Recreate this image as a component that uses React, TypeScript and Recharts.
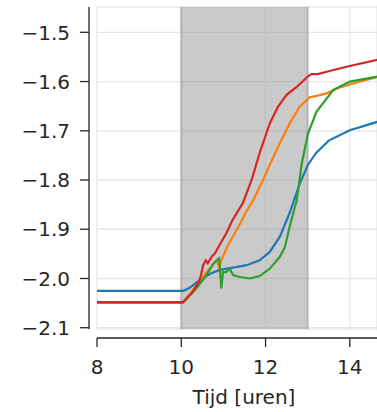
import { LineChart, Line, XAxis, YAxis, CartesianGrid, ReferenceArea, ReferenceLine } from 'recharts';

// tijd in uren, waarde per meetreeks
const blauw = [
  { t: 8, v: -2.025 }, { t: 10.05, v: -2.025 }, { t: 10.2, v: -2.019 }, { t: 10.44, v: -2.003 },
  { t: 10.7, v: -1.99 }, { t: 10.9, v: -1.983 }, { t: 11.07, v: -1.98 }, { t: 11.3, v: -1.977 },
  { t: 11.55, v: -1.973 }, { t: 11.86, v: -1.963 }, { t: 12.1, v: -1.946 }, { t: 12.34, v: -1.915 },
  { t: 12.58, v: -1.865 }, { t: 12.8, v: -1.81 }, { t: 13.0, v: -1.77 }, { t: 13.2, v: -1.745 },
  { t: 13.5, v: -1.72 }, { t: 14.0, v: -1.699 }, { t: 14.65, v: -1.682 },
];

const oranje = [
  { t: 8, v: -2.048 }, { t: 10.04, v: -2.048 }, { t: 10.36, v: -2.014 }, { t: 10.6, v: -1.987 },
  { t: 10.84, v: -1.963 }, { t: 10.9, v: -1.979 }, { t: 10.95, v: -1.963 }, { t: 11.11, v: -1.932 },
  { t: 11.31, v: -1.902 }, { t: 11.55, v: -1.863 }, { t: 11.71, v: -1.841 }, { t: 11.94, v: -1.8 },
  { t: 12.26, v: -1.739 }, { t: 12.58, v: -1.684 }, { t: 12.81, v: -1.651 }, { t: 13.05, v: -1.632 },
  { t: 13.21, v: -1.629 }, { t: 13.45, v: -1.624 }, { t: 13.69, v: -1.614 }, { t: 14.16, v: -1.602 },
  { t: 14.65, v: -1.591 },
];

const groen = [
  { t: 8, v: -2.049 }, { t: 10.04, v: -2.049 }, { t: 10.36, v: -2.02 }, { t: 10.6, v: -1.993 },
  { t: 10.76, v: -1.97 }, { t: 10.9, v: -1.959 }, { t: 10.95, v: -2.02 }, { t: 10.99, v: -1.987 },
  { t: 11.07, v: -1.987 }, { t: 11.15, v: -1.98 }, { t: 11.23, v: -1.993 }, { t: 11.39, v: -1.997 },
  { t: 11.63, v: -2.0 }, { t: 11.86, v: -1.995 }, { t: 12.1, v: -1.98 }, { t: 12.34, v: -1.956 },
  { t: 12.46, v: -1.936 }, { t: 12.58, v: -1.892 }, { t: 12.74, v: -1.841 }, { t: 12.86, v: -1.766 },
  { t: 13.01, v: -1.705 }, { t: 13.21, v: -1.661 }, { t: 13.61, v: -1.617 }, { t: 14.0, v: -1.6 },
  { t: 14.65, v: -1.59 },
];

const rood = [
  { t: 8, v: -2.048 }, { t: 10.04, v: -2.048 }, { t: 10.25, v: -2.03 }, { t: 10.44, v: -2.003 },
  { t: 10.52, v: -1.973 }, { t: 10.58, v: -1.963 }, { t: 10.63, v: -1.969 }, { t: 10.72, v: -1.956 },
  { t: 10.8, v: -1.949 }, { t: 10.91, v: -1.932 }, { t: 11.07, v: -1.908 }, { t: 11.22, v: -1.881 },
  { t: 11.46, v: -1.847 }, { t: 11.67, v: -1.8 }, { t: 11.86, v: -1.745 }, { t: 12.1, v: -1.685 },
  { t: 12.29, v: -1.652 }, { t: 12.5, v: -1.627 }, { t: 12.74, v: -1.611 }, { t: 13.0, v: -1.59 },
  { t: 13.09, v: -1.585 }, { t: 13.24, v: -1.585 }, { t: 13.45, v: -1.58 }, { t: 13.92, v: -1.57 },
  { t: 14.65, v: -1.556 },
];

const xTicks = [8, 10, 12, 14];
const yTicks = [-2.1, -2.0, -1.9, -1.8, -1.7, -1.6, -1.5];
const periode = [10, 13];

const lettertype = '"DejaVu Sans", Verdana, sans-serif';
const tekstKleur = '#262626';
const asKleur = '#262626';

const fmtY = (v: number) => (v < 0 ? '\u2212' : '') + Math.abs(v).toFixed(1);

const YTick = ({ x, y, payload }: any) => (
  <g>
    <line x1={x - 17} x2={x - 8} y1={y} y2={y} stroke={asKleur} strokeWidth={1.3} />
    <text x={x - 27} y={y} dy="0.36em" textAnchor="end" fontSize={20} fontFamily={lettertype} fill={tekstKleur}>
      {fmtY(payload.value)}
    </text>
  </g>
);

const XTick = ({ x, y, payload }: any) => (
  <g>
    <line x1={x} x2={x} y1={y + 9} y2={y + 18} stroke={asKleur} strokeWidth={1.3} />
    <text x={x} y={y + 45} textAnchor="middle" fontSize={20} fontFamily={lettertype} fill={tekstKleur}>
      {payload.value}
    </text>
  </g>
);

export default function App() {
  return (
    <div style={{ position: 'absolute', left: 0, top: 0 }}>
      <LineChart width={377} height={412} margin={{ top: 7, right: 0, bottom: 0, left: 0 }}>
        <CartesianGrid stroke="#e6e6e6" strokeWidth={1.3} />
        <ReferenceArea x1={periode[0]} x2={periode[1]} fill="#999999" fillOpacity={0.52} stroke="none" />
        <ReferenceLine x={periode[0]} stroke="#999999" strokeOpacity={0.6} strokeWidth={2} />
        <ReferenceLine x={periode[1]} stroke="#999999" strokeOpacity={0.6} strokeWidth={2} />
        <XAxis
          type="number"
          dataKey="t"
          domain={[8, 14.645]}
          ticks={xTicks}
          allowDataOverflow
          height={83}
          tickSize={0}
          tickMargin={0}
          tickLine={false}
          tick={<XTick />}
          axisLine={{ stroke: asKleur, strokeWidth: 1.3, transform: 'translate(0,9)' }}
          label={{
            value: 'Tijd [uren]',
            position: 'insideBottom',
            offset: 8,
            dx: 7,
            style: { fontSize: 20, fontFamily: lettertype, fill: tekstKleur },
          }}
        />
        <YAxis
          type="number"
          dataKey="v"
          domain={[-2.1026, -1.4486]}
          ticks={yTicks}
          allowDataOverflow
          width={97}
          tickSize={0}
          tickMargin={0}
          tickLine={false}
          tick={<YTick />}
          axisLine={{ stroke: asKleur, strokeWidth: 1.3, transform: 'translate(-8,0)' }}
        />
        <Line data={blauw} dataKey="v" stroke="#1f77b4" strokeWidth={2.2} dot={false} isAnimationActive={false} />
        <Line data={oranje} dataKey="v" stroke="#ff7f0e" strokeWidth={2.2} dot={false} isAnimationActive={false} />
        <Line data={groen} dataKey="v" stroke="#2ca02c" strokeWidth={2.2} dot={false} isAnimationActive={false} />
        <Line data={rood} dataKey="v" stroke="#d62728" strokeWidth={2.2} dot={false} isAnimationActive={false} />
      </LineChart>
    </div>
  );
}
